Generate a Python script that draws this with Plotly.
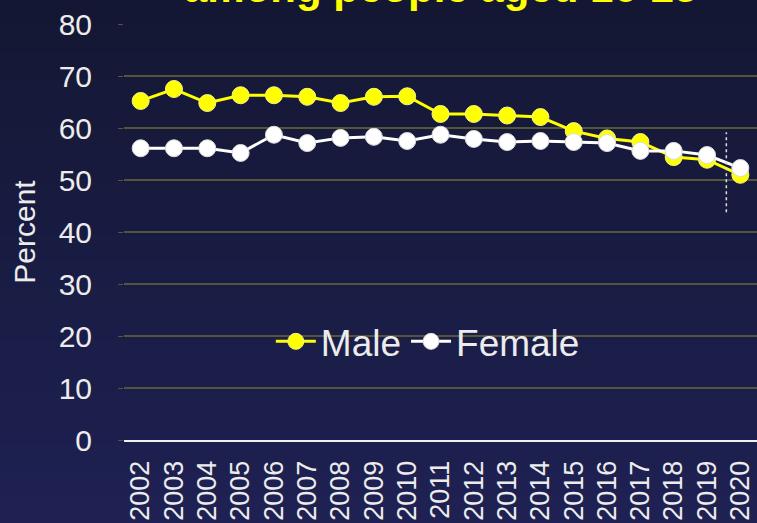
import plotly.graph_objects as go

years = [str(y) for y in range(2002, 2021)]
male = [65.2, 67.5, 64.8, 66.3, 66.3, 66.0, 64.8, 66.0, 66.1, 62.7,
        62.7, 62.4, 62.1, 59.4, 58.0, 57.3, 54.4, 53.9, 51.0]
female = [56.1, 56.1, 56.1, 55.2, 58.7, 57.1, 58.1, 58.3, 57.5, 58.7,
          57.9, 57.3, 57.5, 57.3, 57.1, 55.6, 55.6, 54.8, 52.3]

y_ticks = [0, 10, 20, 30, 40, 50, 60, 70, 80]
# dashed marker between 2019 and 2020 (category index, value range)
break_x = 17.58
break_y = [43.8, 59.2]

FONT = "Liberation Sans, Arial, sans-serif"
TXT = "#ececec"

fig = go.Figure()
fig.add_trace(go.Scatter(
    x=years, y=male, name="Male", mode="lines+markers",
    line=dict(color="#ffff00", width=3),
    marker=dict(size=17, color="#ffff00", line=dict(color="#f4f48a", width=1)),
))
fig.add_trace(go.Scatter(
    x=years, y=female, name="Female", mode="lines+markers",
    line=dict(color="#ffffff", width=3),
    marker=dict(size=17, color="#ffffff", line=dict(color="#dcdcdc", width=1)),
))

# background gradient: dark navy at top to slightly bluer at bottom
n = 40
top = (20, 23, 51)
bot = (30, 33, 82)
for i in range(n):
    t = i / (n - 1)
    c = tuple(round(top[k] + (bot[k] - top[k]) * t) for k in range(3))
    y1 = 1.06 - i * (1.06 + 0.2) / n
    y0 = y1 - (1.06 + 0.2) / n - 0.002
    fig.add_shape(type="rect", xref="paper", yref="paper",
                  x0=-0.3, x1=1.1, y0=y0, y1=y1, layer="below",
                  fillcolor="rgb(%d,%d,%d)" % c, line=dict(width=0))

fig.add_shape(type="line", xref="x", yref="y",
              x0=break_x, x1=break_x, y0=break_y[0], y1=break_y[1],
              line=dict(color="#e0e0e0", width=1.5, dash="3px,3px"))

fig.add_annotation(
    text="<b>among people aged 16-25</b>", xref="paper", yref="paper",
    x=0.5, y=1.029, xanchor="center", yanchor="bottom", showarrow=False,
    font=dict(family=FONT, size=42, color="#ffff00"), borderpad=0,
)

fig.update_layout(
    width=757, height=523,
    margin=dict(l=124, r=0, t=24, b=83),
    paper_bgcolor="#181b40",
    plot_bgcolor="rgba(0,0,0,0)",
    font=dict(family=FONT, color=TXT),
    showlegend=True,
    legend=dict(
        orientation="h", x=0.48, xanchor="center", y=0.236, yanchor="middle",
        font=dict(size=37, color=TXT), bgcolor="rgba(0,0,0,0)",
        itemwidth=40, tracegroupgap=0,
    ),
    xaxis=dict(
        type="category", range=[-0.5, 18.5], tickangle=-90,
        tickmode="array", tickvals=years, ticktext=years,
        tickfont=dict(size=27, color=TXT), showgrid=False,
        ticklabelstandoff=8,
        showline=True, linecolor="#f0f0f0", linewidth=2,
        ticks="", fixedrange=True,
    ),
    yaxis=dict(
        range=[0, 80], tickvals=y_ticks, ticks="outside", ticklen=5,
        tickcolor="#55553a", tickfont=dict(size=30, color=TXT),
        ticklabelstandoff=20,
        gridcolor="#55553a", gridwidth=1.5, zeroline=False,
        showline=False,
        title=dict(text="Percent", font=dict(size=30, color=TXT), standoff=14),
    ),
)

fig.write_html(
    "out.html",
    config={"displayModeBar": False},
    post_script="document.body.style.margin='0';document.body.style.overflow='hidden';",
)
